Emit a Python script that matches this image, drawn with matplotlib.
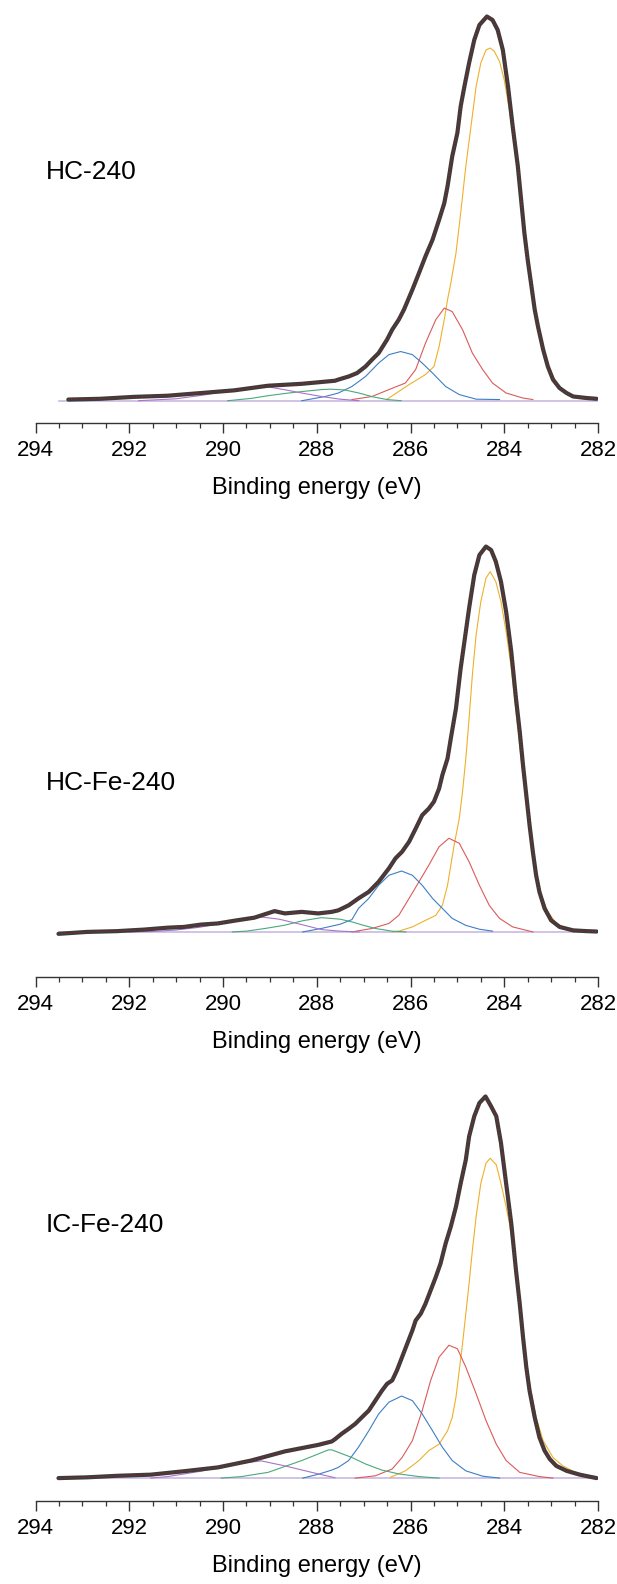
import matplotlib
matplotlib.use("Agg")
import matplotlib.pyplot as plt
from matplotlib.ticker import MultipleLocator

plt.rcParams['font.family'] = ['Liberation Sans', 'DejaVu Sans']

# ---------------- HC-240 ----------------
hc_e = [293.30, 292.62, 291.90, 291.18, 290.47, 289.76, 289.04, 288.32, 287.61,
        287.54, 287.32, 287.14, 286.96, 286.82, 286.68, 286.50, 286.39, 286.25,
        286.14, 285.96, 285.82, 285.68, 285.53, 285.39, 285.28, 285.21, 285.11,
        285.00, 284.93, 284.85, 284.75, 284.64, 284.53, 284.37, 284.25, 284.14,
        284.03, 283.92, 283.82, 283.71, 283.64, 283.57, 283.50, 283.42, 283.35,
        283.28, 283.17, 283.07, 282.96, 282.82, 282.67, 282.53, 282.24, 282.03]
hc_i = [0.3, 0.5, 1.0, 1.3, 2.0, 2.7, 3.9, 4.4, 5.2,
        5.5, 6.3, 7.2, 8.9, 10.7, 12.4, 15.9, 18.5, 21.1,
        23.7, 28.9, 33.2, 37.6, 41.9, 47.1, 51.4, 55.8, 63.6,
        69.7, 76.6, 81.8, 87.9, 93.9, 97.8, 100.0, 99.1, 96.5,
        91.3, 81.8, 71.4, 61.0, 52.3, 43.6, 36.7, 29.8, 23.7,
        19.3, 13.3, 8.9, 5.5, 3.3, 2.0, 1.1, 0.7, 0.5]

hc_c1_e = [286.50, 286.03, 285.68, 285.50, 285.39, 285.28, 285.21, 285.14, 285.03,
           284.93, 284.82, 284.71, 284.60, 284.50, 284.39, 284.30, 284.21, 284.10,
           284.00, 283.89, 283.78, 283.67, 283.57, 283.46, 283.35, 283.25, 283.10,
           282.96, 282.82, 282.60, 282.32, 282.03]
hc_c1_i = [0.4, 4.2, 6.8, 8.9, 14.1, 21.1, 26.3, 30.6, 38.4,
           48.8, 61.0, 71.4, 81.8, 87.9, 91.3, 91.8, 90.9, 88.3,
           83.5, 75.7, 66.2, 55.8, 45.4, 35.0, 25.4, 17.6, 10.7,
           6.3, 3.3, 1.6, 0.5, 0.3]
hc_c2_e = [287.25, 286.82, 286.46, 286.11, 285.89, 285.68, 285.46, 285.28, 285.11,
           284.89, 284.68, 284.46, 284.25, 283.96, 283.60, 283.39]
hc_c2_i = [0.3, 1.1, 2.9, 4.6, 8.1, 15.0, 21.1, 24.1, 23.2,
           18.5, 12.4, 8.1, 4.6, 2.0, 0.7, 0.3]
hc_c3_e = [288.32, 287.82, 287.54, 287.25, 286.96, 286.68, 286.46, 286.21, 285.96,
           285.75, 285.53, 285.25, 284.96, 284.60, 284.10]
hc_c3_i = [0.0, 1.1, 2.0, 3.7, 6.3, 9.8, 12.0, 12.8, 12.0,
           9.8, 7.2, 3.7, 1.6, 0.4, 0.3]
hc_c4_e = [289.90, 289.40, 289.04, 288.60, 288.30, 287.90, 287.70, 287.40, 287.10,
           286.80, 286.50, 286.20]
hc_c4_i = [0.0, 0.6, 1.3, 2.0, 2.4, 2.9, 3.0, 2.8, 2.0, 1.0, 0.3, 0.0]
hc_c5_e = [291.80, 291.00, 290.40, 289.80, 289.30, 289.04, 288.70, 288.32, 287.90,
           287.50, 287.10]
hc_c5_i = [0.0, 0.5, 1.5, 2.8, 3.5, 3.6, 2.9, 2.0, 1.1, 0.4, 0.0]

# ---------------- HC-Fe-240 ----------------
hcfe_e = [293.51, 292.90, 292.26, 291.69, 291.18, 290.83, 290.47, 290.11, 289.76,
          289.33, 288.90, 288.68, 288.32, 287.97, 287.68, 287.54, 287.32, 287.11,
          286.89, 286.68, 286.46, 286.32, 286.18, 286.03, 285.89, 285.75, 285.61,
          285.50, 285.39, 285.32, 285.21, 285.14, 285.03, 284.93, 284.82, 284.75,
          284.64, 284.53, 284.39, 284.28, 284.18, 284.07, 283.96, 283.85, 283.75,
          283.67, 283.60, 283.53, 283.46, 283.39, 283.32, 283.25, 283.14, 283.00,
          282.82, 282.53, 282.24, 282.03]
hcfe_i = [-0.5, 0.0, 0.2, 0.6, 1.1, 1.3, 1.9, 2.2, 2.9,
          3.7, 5.4, 4.8, 5.2, 4.8, 5.2, 5.6, 6.9, 8.7,
          10.4, 13.0, 16.5, 19.1, 20.8, 23.4, 26.8, 30.3, 32.0,
          33.8, 37.2, 40.7, 45.0, 50.2, 58.0, 68.4, 77.9, 84.0,
          92.6, 97.8, 100.0, 99.1, 96.1, 90.9, 83.1, 72.7, 60.6,
          52.0, 43.3, 35.5, 27.7, 20.8, 14.7, 10.4, 6.1, 3.0,
          1.3, 0.4, 0.2, 0.1]

hcfe_c1_e = [286.39, 286.25, 285.96, 285.68, 285.46, 285.32, 285.21, 285.14, 285.07,
             284.96, 284.89, 284.82, 284.75, 284.68, 284.60, 284.50, 284.39, 284.30,
             284.18, 284.07, 283.96, 283.85, 283.75, 283.64, 283.53, 283.42, 283.32,
             283.21, 283.07, 282.89, 282.67, 282.39, 282.03]
hcfe_c1_i = [0.0, 0.2, 1.3, 3.0, 4.3, 6.9, 12.1, 17.3, 22.5,
             29.4, 36.4, 45.0, 55.4, 66.7, 77.1, 85.7, 91.8, 93.5,
             90.9, 85.7, 77.9, 68.4, 57.2, 45.0, 33.8, 23.4, 14.7,
             9.5, 5.2, 2.2, 0.9, 0.2, 0.0]
hcfe_c2_e = [287.25, 286.82, 286.46, 286.25, 286.03, 285.82, 285.61, 285.39, 285.18,
             284.96, 284.75, 284.53, 284.32, 284.10, 283.82, 283.39]
hcfe_c2_i = [0.0, 0.9, 2.2, 4.3, 8.7, 13.0, 17.3, 22.1, 24.3,
             23.0, 18.2, 12.1, 6.9, 3.5, 1.3, 0.0]
hcfe_c3_e = [288.30, 287.90, 287.50, 287.25, 287.11, 286.89, 286.68, 286.46, 286.19,
             285.96, 285.75, 285.53, 285.32, 285.11, 284.82, 284.53, 284.25]
hcfe_c3_i = [0.0, 0.9, 2.0, 3.2, 6.1, 8.7, 12.1, 14.7, 15.8,
             14.7, 12.1, 8.7, 6.1, 3.5, 1.7, 0.7, 0.2]
hcfe_c4_e = [289.80, 289.50, 289.10, 288.70, 288.30, 287.90, 287.50, 287.25, 287.00,
             286.75, 286.40, 286.10]
hcfe_c4_i = [0.0, 0.2, 0.9, 1.7, 2.9, 3.7, 3.3, 2.6, 1.7, 0.9, 0.2, 0.0]
hcfe_c5_e = [292.00, 291.50, 291.00, 290.50, 290.00, 289.60, 289.20, 288.80, 288.32,
             287.90, 287.50, 287.10]
hcfe_c5_i = [0.0, 0.1, 0.5, 1.2, 2.3, 3.3, 3.9, 3.3, 1.9, 0.6, 0.2, 0.0]

# ---------------- IC-Fe-240 ----------------
icfe_e = [293.51, 292.90, 292.26, 291.54, 290.83, 290.11, 289.40, 288.68, 287.97,
          287.68, 287.61, 287.47, 287.32, 287.18, 287.04, 286.89, 286.75, 286.61,
          286.50, 286.39, 286.29, 286.18, 286.07, 285.96, 285.89, 285.78, 285.68,
          285.57, 285.46, 285.36, 285.25, 285.14, 285.03, 284.93, 284.82, 284.75,
          284.64, 284.53, 284.40, 284.28, 284.17, 284.07, 283.96, 283.85, 283.75,
          283.67, 283.60, 283.53, 283.46, 283.35, 283.25, 283.14, 283.03, 282.89,
          282.67, 282.39, 282.03]
icfe_i = [0.0, 0.2, 0.6, 0.9, 1.8, 2.8, 4.6, 7.0, 8.7,
          9.6, 10.2, 11.6, 12.9, 14.2, 15.9, 17.7, 20.3, 22.9,
          24.7, 25.6, 28.2, 31.7, 35.2, 38.7, 41.3, 43.1, 45.7,
          49.2, 52.7, 56.2, 61.5, 65.9, 71.1, 77.2, 83.4, 89.5,
          94.8, 98.3, 100.0, 97.4, 94.8, 87.8, 77.2, 66.7, 54.5,
          45.7, 37.0, 29.1, 22.9, 15.9, 10.7, 7.2, 5.0, 3.2,
          1.9, 0.9, 0.0]

icfe_c1_e = [286.43, 286.11, 285.82, 285.61, 285.39, 285.21, 285.11, 285.03, 284.96,
             284.89, 284.82, 284.75, 284.68, 284.60, 284.50, 284.39, 284.30, 284.17,
             284.07, 283.96, 283.89, 283.78, 283.67, 283.57, 283.46, 283.32, 283.17,
             282.96, 282.75, 282.53, 282.24, 282.03]
icfe_c1_i = [0.2, 1.9, 4.6, 7.2, 8.9, 12.4, 15.9, 21.2, 28.2,
             35.2, 43.1, 51.0, 59.7, 68.5, 77.2, 82.5, 83.8, 82.1,
             77.2, 71.1, 66.7, 58.0, 46.6, 35.2, 24.7, 15.9, 9.8,
             5.4, 3.2, 1.8, 0.6, 0.2]
icfe_c2_e = [287.18, 286.75, 286.39, 286.18, 285.96, 285.75, 285.57, 285.39, 285.18,
             285.00, 284.82, 284.60, 284.39, 284.17, 283.96, 283.67, 283.25, 282.96]
icfe_c2_i = [0.0, 0.6, 2.4, 5.4, 9.8, 17.7, 25.6, 31.7, 34.8,
             33.9, 29.1, 22.1, 15.1, 8.9, 4.6, 1.5, 0.4, 0.0]
icfe_c3_e = [288.30, 287.97, 287.68, 287.54, 287.32, 287.11, 286.89, 286.68, 286.46,
             286.19, 285.96, 285.75, 285.53, 285.32, 285.11, 284.82, 284.46, 284.10]
icfe_c3_i = [0.0, 1.0, 2.1, 2.8, 4.6, 8.1, 12.4, 16.8, 19.9,
             21.5, 20.3, 16.8, 12.4, 8.1, 4.6, 1.9, 0.5, 0.0]
icfe_c4_e = [290.04, 289.61, 289.04, 288.32, 287.75, 287.68, 287.25, 286.96, 286.61,
             286.25, 285.82, 285.39]
icfe_c4_i = [0.0, 0.4, 1.5, 4.6, 7.4, 7.4, 5.4, 3.7, 2.1, 1.1, 0.4, 0.0]
icfe_c5_e = [291.54, 291.18, 290.47, 289.76, 289.18, 288.68, 287.97, 287.61]
icfe_c5_i = [0.0, 0.4, 1.8, 3.7, 4.5, 3.2, 1.1, 0.1]

samples = ['HC-240', 'HC-Fe-240', 'IC-Fe-240']
spectra = [(hc_e, hc_i), (hcfe_e, hcfe_i), (icfe_e, icfe_i)]
components = [
    [(hc_c1_e, hc_c1_i), (hc_c2_e, hc_c2_i), (hc_c3_e, hc_c3_i), (hc_c4_e, hc_c4_i), (hc_c5_e, hc_c5_i)],
    [(hcfe_c1_e, hcfe_c1_i), (hcfe_c2_e, hcfe_c2_i), (hcfe_c3_e, hcfe_c3_i), (hcfe_c4_e, hcfe_c4_i), (hcfe_c5_e, hcfe_c5_i)],
    [(icfe_c1_e, icfe_c1_i), (icfe_c2_e, icfe_c2_i), (icfe_c3_e, icfe_c3_i), (icfe_c4_e, icfe_c4_i), (icfe_c5_e, icfe_c5_i)],
]
comp_colors = ['#eeb02c', '#dc5a5a', '#3d7fc4', '#4aa97a', '#a874c8']

# axes boxes in figure pixels (top, spine, ylim bottom)
W, H = 617, 1584
boxes = [(5, 423, -5.8), (535, 977, -11.7), (1085, 1501, -6.0)]
label_y = [172, 783, 1225]

fig = plt.figure(figsize=(W / 100, H / 100), dpi=100)
for k in range(3):
    top, spine, ybot = boxes[k]
    ax = fig.add_axes([35.5 / W, 1 - spine / H, (598 - 35.5) / W, (spine - top) / H])
    e, inten = spectra[k]
    ax.plot([293.5, 282.0], [0, 0], color='#c9b9e3', lw=1.2)
    for (ce, ci), col in zip(components[k], comp_colors):
        ax.plot(ce, ci, color=col, lw=0.8)
    ax.plot(e, inten, color='#3c3c3c', lw=3.0, solid_capstyle='round',
            solid_joinstyle='round')
    ax.plot(e, inten, color='#b02020', lw=0.8, ls=':')
    ax.set_xlim(294, 282)
    ax.set_ylim(ybot, 103)
    for s in ['left', 'right', 'top']:
        ax.spines[s].set_visible(False)
    ax.spines['bottom'].set_color('#333333')
    ax.spines['bottom'].set_linewidth(1.0)
    ax.set_yticks([])
    ax.xaxis.set_major_locator(MultipleLocator(2))
    ax.xaxis.set_minor_locator(MultipleLocator(0.5))
    ax.tick_params(axis='x', which='major', direction='out', length=7, width=1.0,
                   labelsize=16, pad=5, color='#333333')
    ax.tick_params(axis='x', which='minor', direction='out', length=3.5, width=0.9,
                   color='#333333')
    ax.set_xlabel('Binding energy (eV)', fontsize=17, labelpad=12)
    fig.text(45.5 / W, 1 - label_y[k] / H, samples[k], fontsize=19, va='center', ha='left')

fig.savefig('out.png', dpi=100)
